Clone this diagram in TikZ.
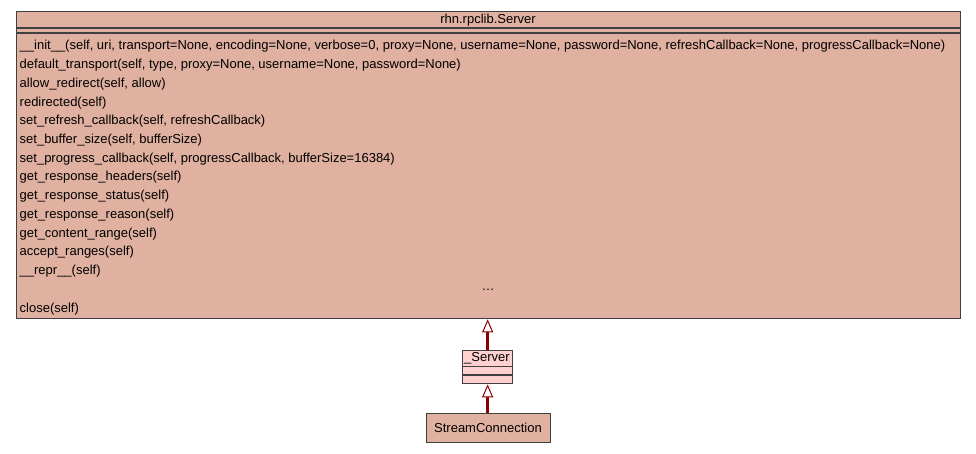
\documentclass[tikz,border=0pt]{standalone}
\usepackage{fontspec}
\setmainfont{Liberation Sans}
\usetikzlibrary{arrows.meta}

\definecolor{classfill}{HTML}{E0B0A0}
\definecolor{basefill}{HTML}{FFD0D0}
\definecolor{edgeline}{HTML}{404040}
\definecolor{inherit}{HTML}{8B0000}

\begin{document}
\begin{tikzpicture}[
    x=1pt,
    y=-1pt,
    every node/.style={font=\fontsize{13}{15}\selectfont, inner sep=0pt},
    classbox/.style={draw=edgeline, line width=1.3pt, anchor=north west, fill=#1},
    member/.style={anchor=west},
    derive/.style={draw=inherit, line width=2.4pt,
        -{Triangle[open, length=13pt, width=11pt, line width=1pt, fill=white]}}
]
\useasboundingbox (0,0) rectangle (976,453);

% rhn.rpclib.Server
\node[classbox=classfill, minimum width=944pt, minimum height=307pt] (srv) at (16,11) {};
\node (srvname) at (488,20) {rhn.rpclib.Server};
\draw[edgeline, line width=1.3pt] (16,28) -- (960,28);
\draw[edgeline, line width=1.3pt] (16,33) -- (960,33);

\foreach \i/\txt in {
    0/{\_\_init\_\_(self, uri, transport=None, encoding=None, verbose=0, proxy=None, username=None, password=None, refreshCallback=None, progressCallback=None)},
    1/{default\_transport(self, type, proxy=None, username=None, password=None)},
    2/{allow\_redirect(self, allow)},
    3/{redirected(self)},
    4/{set\_refresh\_callback(self, refreshCallback)},
    5/{set\_buffer\_size(self, bufferSize)},
    6/{set\_progress\_callback(self, progressCallback, bufferSize=16384)},
    7/{get\_response\_headers(self)},
    8/{get\_response\_status(self)},
    9/{get\_response\_reason(self)},
    10/{get\_content\_range(self)},
    11/{accept\_ranges(self)},
    12/{\_\_repr\_\_(self)}}
  \node[member] (m\i) at (19.5,{46.5+18.73*\i}) {\txt};
\node (mdots) at (488,290) {\dots};
\node[member] (mclose) at (19.5,309) {close(self)};

% _Server
\node[classbox=basefill, minimum width=50pt, minimum height=33pt] (base) at (462,350) {};
\node (basename) at (487,358) {\_Server};
\draw[edgeline, line width=1.3pt] (462,366.5) -- (512,366.5);
\draw[edgeline, line width=1.3pt] (462,375) -- (512,375);

% StreamConnection
\node[classbox=classfill, minimum width=124pt, minimum height=29pt] (conn) at (426,413) {};
\node (connname) at (488,427.5) {StreamConnection};

% inheritance
\draw[derive] (base.north) -- (srv.south -| base.north);
\draw[derive] (conn.north -| base.south) -- (base.south);

\end{tikzpicture}
\end{document}
